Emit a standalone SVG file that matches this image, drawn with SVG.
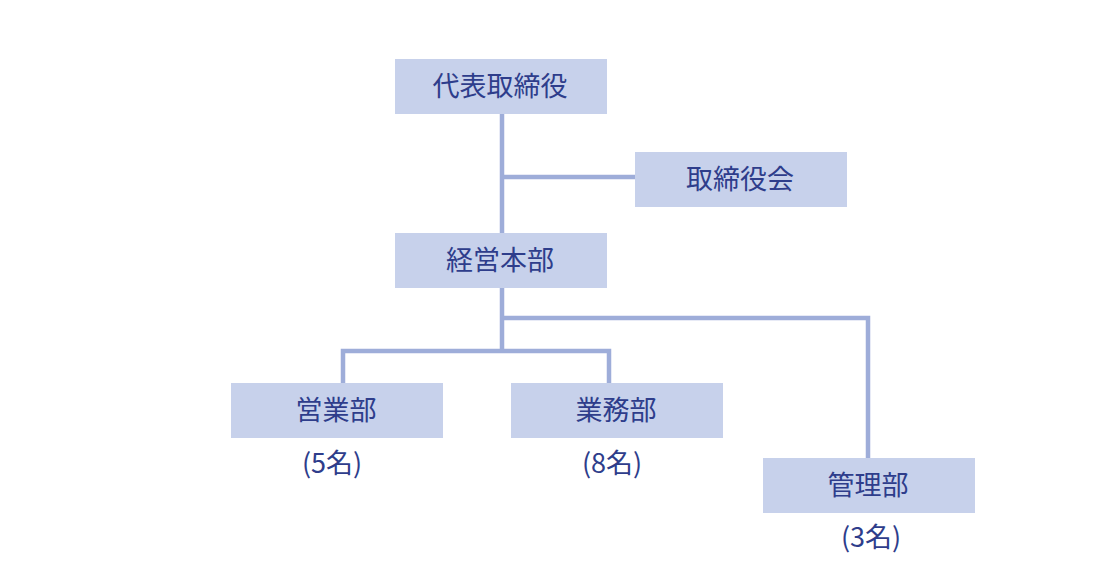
<svg xmlns="http://www.w3.org/2000/svg" width="1120" height="582" viewBox="0 0 1120 582">
<style>
.box{fill:#c7d1eb}
.t{font-family:"Noto Sans CJK JP","Noto Sans",sans-serif;font-size:27px;font-weight:400;fill:#2e3d8b;text-anchor:middle}
.ln{fill:none;stroke:#9eadd9;stroke-width:4.5}
</style>
<rect width="1120" height="582" fill="#ffffff"/>
<g id="connectors">
<path class="ln" d="M502 114V233M502 177H635M502 288V351M502 318H868V458M343 383V351H609V383"/>
</g>
<g id="ceo"><rect class="box" x="395" y="59" width="212" height="55"/><text class="t" x="500" y="96">代表取締役</text></g>
<g id="board"><rect class="box" x="635" y="152" width="212" height="55"/><text class="t" x="740" y="189">取締役会</text></g>
<g id="hq"><rect class="box" x="395" y="233" width="212" height="55"/><text class="t" x="500" y="270">経営本部</text></g>
<g id="sales"><rect class="box" x="231" y="383" width="212" height="55"/><text class="t" x="336" y="420">営業部</text><text class="t" x="332" y="473">(5名)</text></g>
<g id="ops"><rect class="box" x="511" y="383" width="212" height="55"/><text class="t" x="616" y="420">業務部</text><text class="t" x="612" y="473">(8名)</text></g>
<g id="admin"><rect class="box" x="763" y="458" width="212" height="55"/><text class="t" x="868" y="495">管理部</text><text class="t" x="871" y="547">(3名)</text></g>
</svg>
